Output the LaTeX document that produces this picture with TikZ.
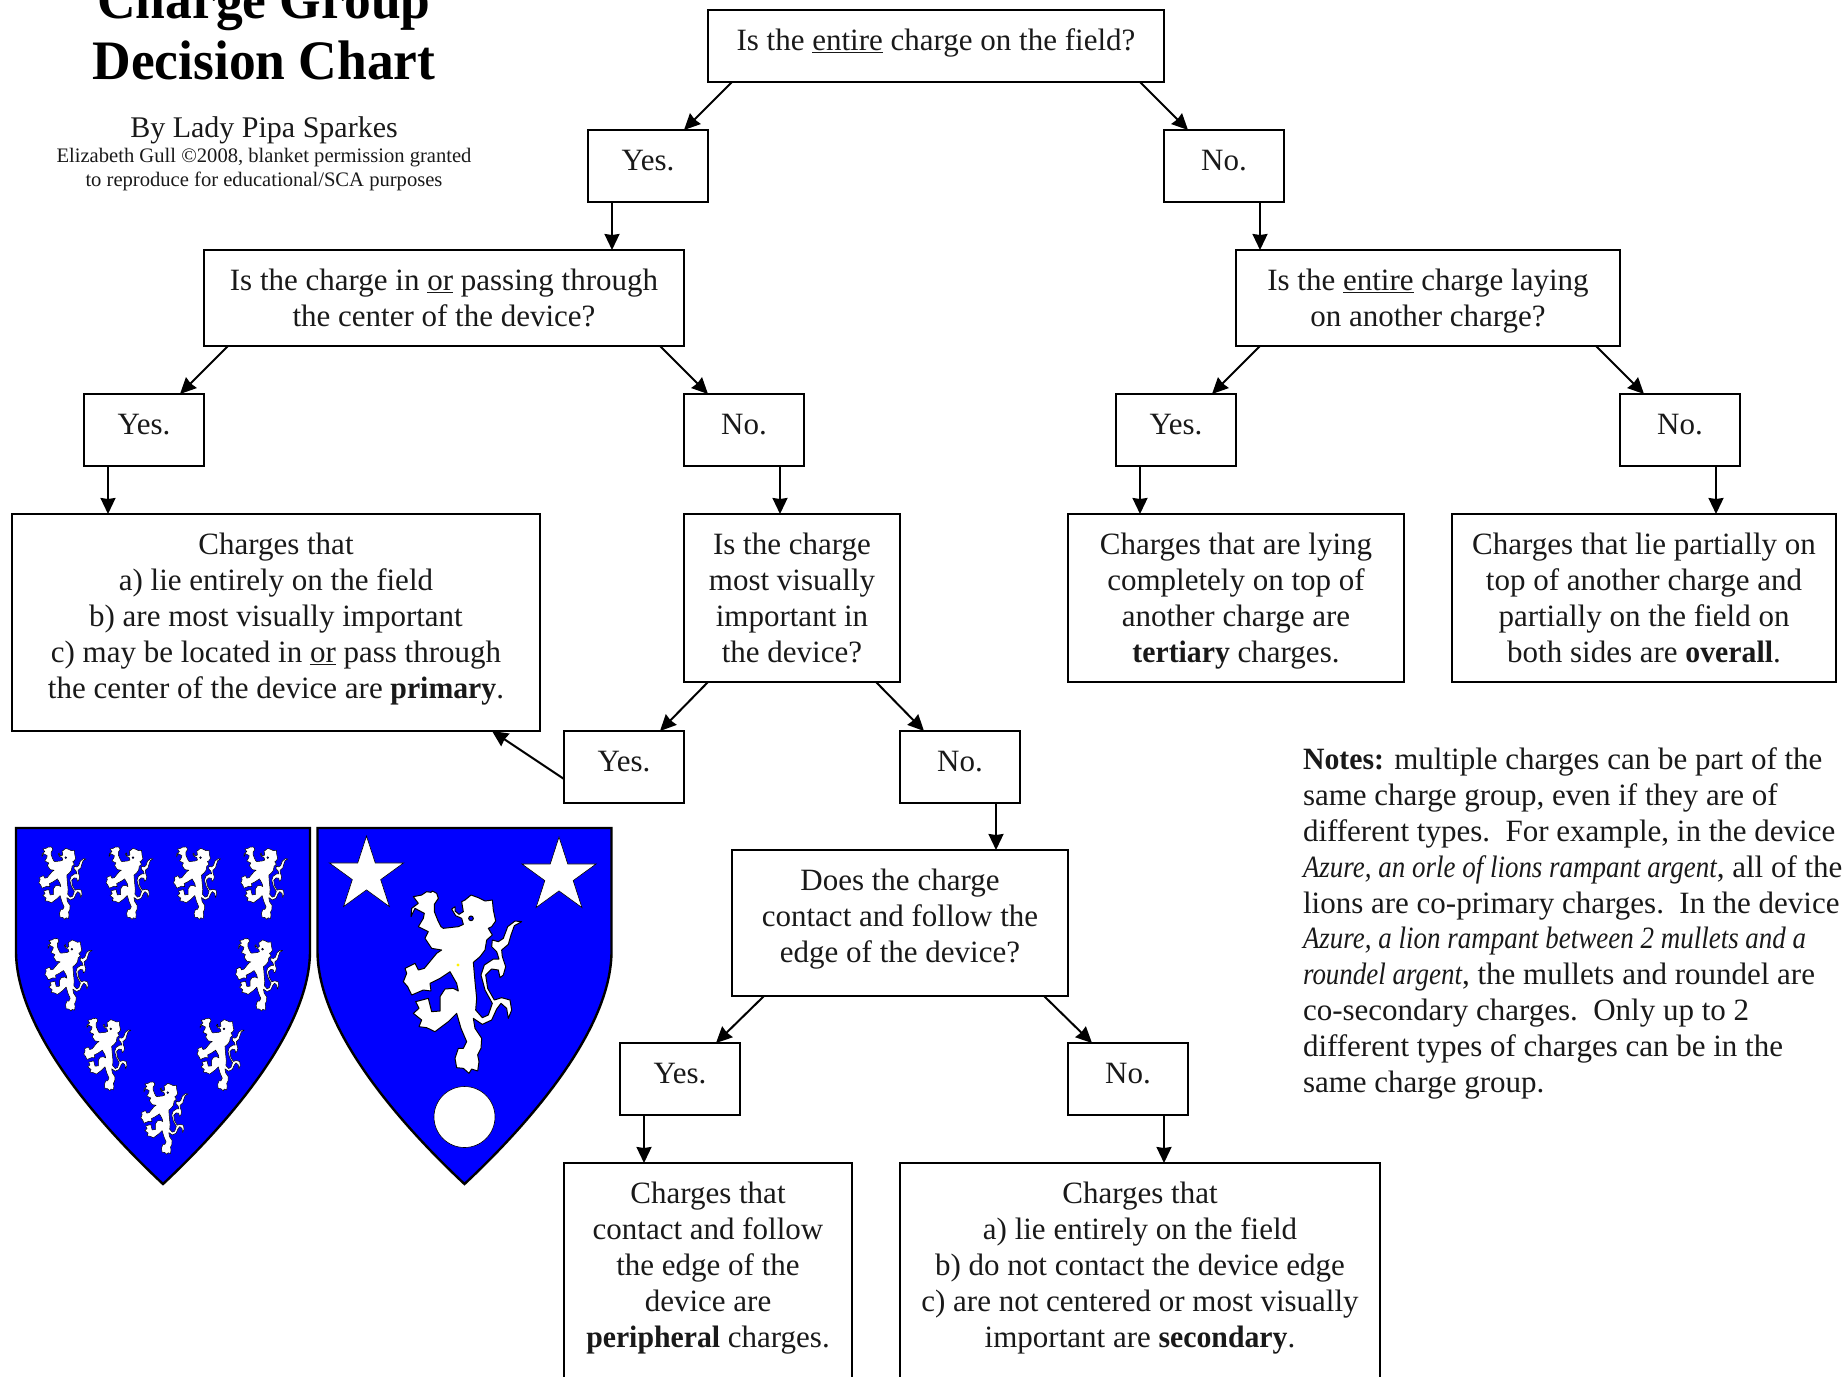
\documentclass[tikz,border=0pt]{standalone}
\usepackage{fontspec}
\setmainfont[ItalicFeatures={FakeStretch=0.87},BoldFeatures={FakeStretch=0.96}]{Liberation Serif}
\usetikzlibrary{arrows.meta}
\usetikzlibrary{shapes.geometric}

\tikzset{
  lion/.pic={
    \draw[fill=white,line join=round,line width=\pgfkeysvalueof{/tikz/lion line}] plot coordinates {
      (95,20) (108,22) (112,18) (125,25) (130,40) (118,58) (118,80) (128,105) (138,125) (145,130)
      (190,125) (205,118) (200,100) (182,92) (170,72) (180,65) (180,78) (192,88) (205,80) (200,50)
      (210,45) (228,30) (250,38) (270,48) (292,45) (295,75) (302,108) (290,125) (280,130) (292,150)
      (275,165) (270,195) (255,215) (235,232) (240,290) (245,340) (242,375)
      (262,398) (280,390) (292,355) (270,315) (258,270) (268,240) (295,222) (312,222) (305,200)
      (290,185) (292,165) (310,170) (325,160) (338,125) (360,108) (380,110) (358,122) (348,150)
      (340,178) (320,195) (322,215) (332,245) (325,270) (315,278) (310,255) (290,252) (272,270)
      (278,310) (298,345) (320,338) (345,345) (350,375) (340,400) (335,370) (318,355) (305,372)
      (290,405) (262,418) (235,400) (240,430) (260,460) (258,490) (248,510) (252,530) (248,558)
      (230,552) (222,565) (205,550) (185,548) (180,520) (190,490) (205,490) (215,470) (198,430)
      (185,385) (160,410) (120,440) (95,428) (72,425) (80,405) (55,385) (72,370) (62,350) (100,340)
      (110,380) (135,378) (135,335) (150,312) (175,310) (190,318) (185,295) (165,260) (135,280)
      (105,295) (108,318) (85,315) (50,330) (38,305) (25,290) (35,265) (30,250) (60,235) (70,255)
      (88,250) (125,205) (140,195) (110,190) (90,160) (100,140) (70,125) (85,100) (88,85) (60,70)
      (48,95) (50,70) (70,55) (55,35) (80,30)
    } -- cycle;
    \draw[fill=blue,line width=\pgfkeysvalueof{/tikz/lion line}] (228,100) circle (7);
  },
  lion line/.initial=.5pt,
  shield/.pic={
    \draw[fill=shieldblue,line width=2.4pt,line join=miter] (0,0) -- (294,0) -- (294,123)
      .. controls (294,203) and (209,298) .. (147,356)
      .. controls (85,298) and (0,203) .. (0,123) -- cycle;
  }
}
\definecolor{shieldblue}{RGB}{0,0,255}
\definecolor{inkgrey}{RGB}{25,25,25}

\begin{document}
\begin{tikzpicture}[x=1pt,y=-1pt,->,>={Stealth[length=16pt,width=15pt,inset=1pt]},line width=2pt,
                    main box/.style 2 args={rectangle,draw,line width=2.4pt,inner sep=0pt,outer sep=0pt,
                      align=flush center,text width=#1,minimum height=#2,text height=40pt,text depth=#2-40pt,
                      font=\fontsize{31}{36}\selectfont,text=inkgrey},
                    star charge/.style={star,star points=5,star point ratio=2.618,fill=white,draw,
                      line width=.6pt,inner sep=0pt,minimum size=78pt}]
\useasboundingbox (0,0) rectangle (1843,1376);

\node[anchor=base,align=flush center,font=\bfseries\fontsize{55.7}{61}\selectfont] (title) at (264,79) {Charge Group\\Decision Chart};
\node[anchor=base,font=\fontsize{30}{36}\selectfont,text=inkgrey] (byline) at (264,137) {By Lady Pipa Sparkes};
\node[anchor=base,align=center,font=\fontsize{20.6}{24}\selectfont,text=inkgrey] (credit) at (264,186) {Elizabeth Gull ©2008, blanket permission granted\\to reproduce for educational/SCA purposes};

\node[main box={456pt}{72pt}] (qtop) at (936,46) {Is the \underline{entire} charge on the field?};
\node[main box={120pt}{72pt}] (yes1) at (648,166) {Yes.};
\node[main box={120pt}{72pt}] (no1) at (1224,166) {No.};

\node[main box={480pt}{96pt}] (qcenter) at (444,298) {Is the charge in \underline{or} passing through\\the center of the device?};
\node[main box={384pt}{96pt}] (qlaying) at (1428,298) {Is the \underline{entire} charge laying\\on another charge?};

\node[main box={120pt}{72pt}] (yes2) at (144,430) {Yes.};
\node[main box={120pt}{72pt}] (no2) at (744,430) {No.};
\node[main box={120pt}{72pt}] (yes3) at (1176,430) {Yes.};
\node[main box={120pt}{72pt}] (no3) at (1680,430) {No.};

\node[main box={528pt}{217pt}] (primary) at (276,622.5) {Charges that\\a) lie entirely on the field\\b) are most visually important\\c) may be located in \underline{or} pass through\\the center of the device are \textbf{primary}.};
\node[main box={216pt}{168pt}] (qvisual) at (792,598) {Is the charge\\most visually\\important in\\the device?};
\node[main box={336pt}{168pt}] (tertiary) at (1236,598) {Charges that are lying\\completely on top of\\another charge are\\\textbf{tertiary} charges.};
\node[main box={384pt}{168pt}] (overall) at (1644,598) {Charges that lie partially on\\top of another charge and\\partially on the field on\\both sides are \textbf{overall}.};

\node[main box={120pt}{72pt}] (yes4) at (624,767) {Yes.};
\node[main box={120pt}{72pt}] (no4) at (960,767) {No.};

\node[main box={336pt}{146pt}] (qedge) at (900,923) {Does the charge\\contact and follow the\\edge of the device?};
\node[main box={120pt}{72pt}] (yes5) at (680,1079) {Yes.};
\node[main box={120pt}{72pt}] (no5) at (1128,1079) {No.};

\node[main box={288pt}{240pt}] (peripheral) at (708,1283) {Charges that\\contact and follow\\the edge of the\\device are\\\textbf{peripheral} charges.};
\node[main box={480pt}{240pt}] (secondary) at (1140,1283) {Charges that\\a) lie entirely on the field\\b) do not contact the device edge\\c) are not centered or most visually\\important are \textbf{secondary}.};

\node[anchor=base west,inner sep=0pt,align=left,font=\fontsize{31}{35.8}\selectfont,text=inkgrey] (notes) at (1302,1092) {\textbf{Notes:} multiple charges can be part of the\\same charge group, even if they are of\\different types.\ \ For example, in the device\\\textit{Azure, an orle of lions rampant argent}, all of the\\lions are co-primary charges.\ \ In the device\\\textit{Azure, a lion rampant between 2 mullets and a}\\\textit{roundel argent}, the mullets and roundel are\\co-secondary charges.\ \ Only up to 2\\different types of charges can be in the\\same charge group.};

\path
  ([xshift=24pt]qtop.south west) edge ([xshift=-24pt]yes1.north east)
  ([xshift=-24pt]qtop.south east) edge ([xshift=24pt]no1.north west)
  ([xshift=24pt]yes1.south west) edge ([xshift=-72pt]qcenter.north east)
  ([xshift=-24pt]no1.south east) edge ([xshift=24pt]qlaying.north west)
  ([xshift=24pt]qcenter.south west) edge ([xshift=-24pt]yes2.north east)
  ([xshift=-24pt]qcenter.south east) edge ([xshift=24pt]no2.north west)
  ([xshift=24pt]qlaying.south west) edge ([xshift=-24pt]yes3.north east)
  ([xshift=-24pt]qlaying.south east) edge ([xshift=24pt]no3.north west)
  ([xshift=24pt]yes2.south west) edge ([xshift=96pt]primary.north west)
  ([xshift=-24pt]no2.south east) edge ([xshift=96pt]qvisual.north west)
  ([xshift=24pt]yes3.south west) edge ([xshift=72pt]tertiary.north west)
  ([xshift=-24pt]no3.south east) edge ([xshift=264pt]overall.north west)
  ([xshift=24pt]qvisual.south west) edge ([xshift=-24pt]yes4.north east)
  ([xshift=-24pt]qvisual.south east) edge ([xshift=24pt]no4.north west)
  ([yshift=-12pt]yes4.west) edge ([xshift=-48pt]primary.south east)
  ([xshift=-24pt]no4.south east) edge ([xshift=264pt]qedge.north west)
  ([xshift=32pt]qedge.south west) edge ([xshift=-24pt]yes5.north east)
  ([xshift=-24pt]qedge.south east) edge ([xshift=24pt]no5.north west)
  ([xshift=24pt]yes5.south west) edge ([xshift=80pt]peripheral.north west)
  ([xshift=-24pt]no5.south east) edge ([xshift=264pt]secondary.north west)
;

\begin{scope}[-]
\pic at (16,828) {shield};
\pic at (317.5,828) {shield};

\pic[scale=.133] at (35.5,844.3) {lion};
\pic[scale=.133] at (102.7,844.3) {lion};
\pic[scale=.133] at (170.2,844.3) {lion};
\pic[scale=.133] at (237.5,844.3) {lion};
\pic[scale=.133] at (41.6,935.9) {lion};
\pic[scale=.133] at (232.2,935.9) {lion};
\pic[scale=.133] at (80.4,1015.6) {lion};
\pic[scale=.133] at (193.7,1015.6) {lion};
\pic[scale=.133] at (137.5,1079.3) {lion};

\pic[scale=1/3,lion line=1pt] at (395,885) {lion};
\fill[yellow] (458,965) circle (1.6);

\node[star charge] (mullet1) at (366.5,875) {};
\node[star charge] (mullet2) at (559,876) {};
\node[circle,fill=white,draw,line width=.6pt,inner sep=0pt,minimum size=61pt] (roundel) at (464.5,1117) {};
\end{scope}
\end{tikzpicture}
\end{document}
